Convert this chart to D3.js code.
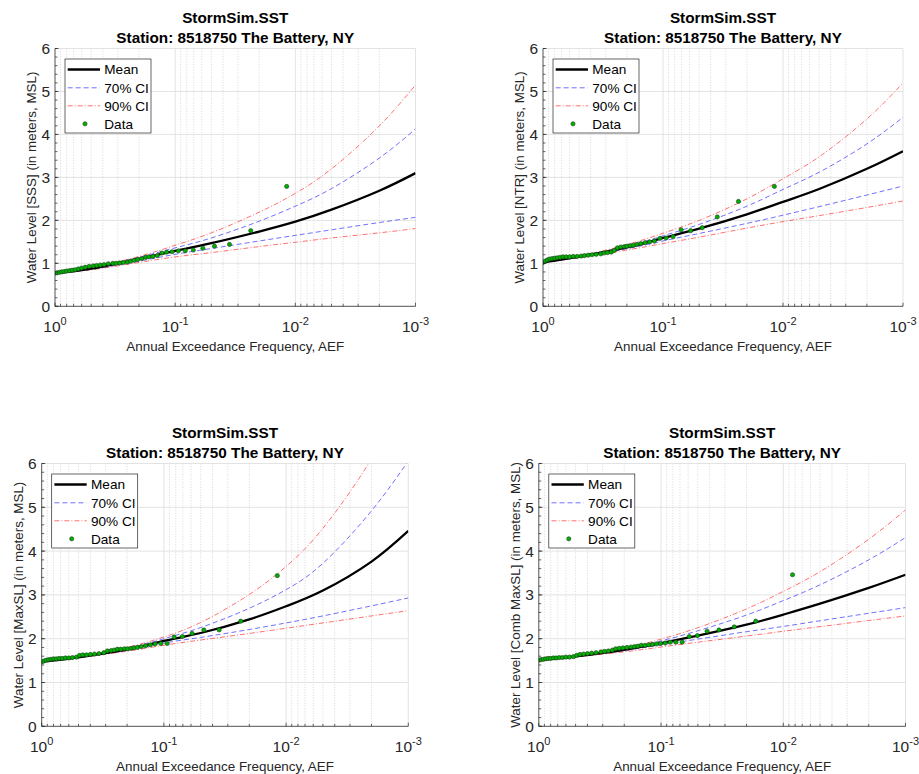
<!DOCTYPE html>
<html><head><meta charset="utf-8">
<script src="https://cdn.jsdelivr.net/npm/d3@7"></script>
<style>
body{margin:0;background:#fff}
svg{display:block}
text{font-family:"Liberation Sans",Arial,Helvetica,sans-serif;fill:#262626}
</style>
</head><body><svg id="c" width="919" height="774"></svg>
<script>
// ---------------- DATA ----------------
const aefGrid = [1, 0.5, 0.2, 0.1, 0.05, 0.02, 0.01, 0.005, 0.002, 0.001];
const xTickValues = [1, 0.1, 0.01, 0.001];
const xTickExponents = ["0", "-1", "-2", "-3"];
const yTickValues = [0, 1, 2, 3, 4, 5, 6];
const titleLine1 = "StormSim.SST";
const titleLine2 = "Station: 8518750 The Battery, NY";
const xAxisLabel = "Annual Exceedance Frequency, AEF";
const yAxisLabels = [
  "Water Level [SSS] (in meters, MSL)",
  "Water Level [NTR] (in meters, MSL)",
  "Water Level [MaxSL] (in meters, MSL)",
  "Water Level [Comb MaxSL] (in meters, MSL)"
];
const legendLabels = ["Mean", "70% CI", "90% CI", "Data"];

// Panel 1: SSS
const sssMean = [0.77, 0.875, 1.105, 1.29, 1.47, 1.74, 1.97, 2.25, 2.69, 3.10];
const sssUp70 = [0.77, 0.89, 1.14, 1.36, 1.59, 1.98, 2.33, 2.74, 3.45, 4.13];
const sssLo70 = [0.77, 0.86, 1.05, 1.21, 1.345, 1.52, 1.65, 1.78, 1.95, 2.07];
const sssUp90 = [0.77, 0.90, 1.16, 1.42, 1.71, 2.19, 2.63, 3.20, 4.20, 5.15];
const sssLo90 = [0.77, 0.85, 1.02, 1.15, 1.25, 1.39, 1.49, 1.59, 1.71, 1.81];
const sssData = [[1.0,0.77],[0.96,0.78],[0.92,0.79],[0.88,0.80],[0.84,0.81],[0.80,0.82],[0.76,0.83],[0.72,0.84],[0.68,0.85],[0.64,0.87],[0.60,0.89],[0.56,0.91],[0.52,0.93],[0.48,0.94],[0.45,0.95],[0.42,0.96],[0.39,0.97],[0.36,0.99],[0.33,1.00],[0.31,1.00],[0.29,1.01],[0.27,1.02],[0.25,1.03],[0.235,1.05],[0.22,1.07],[0.205,1.09],[0.19,1.11],[0.176,1.14],[0.165,1.15],[0.153,1.16],[0.141,1.18],[0.129,1.24],[0.118,1.26],[0.106,1.27],[0.094,1.29],[0.0824,1.29],[0.0706,1.31],[0.0588,1.35],[0.0471,1.40],[0.0353,1.44],[0.0235,1.76],[0.0118,2.79]];

// Panel 2: NTR
const ntrMean = [1.02, 1.155, 1.37, 1.59, 1.81, 2.14, 2.43, 2.73, 3.20, 3.61];
const ntrUp70 = [1.02, 1.16, 1.40, 1.64, 1.905, 2.33, 2.72, 3.12, 3.78, 4.40];
const ntrLo70 = [1.02, 1.14, 1.34, 1.52, 1.695, 1.93, 2.12, 2.32, 2.59, 2.80];
const ntrUp90 = [1.02, 1.165, 1.435, 1.70, 2.00, 2.50, 2.97, 3.48, 4.36, 5.20];
const ntrLo90 = [1.02, 1.135, 1.31, 1.46, 1.61, 1.82, 1.97, 2.11, 2.30, 2.45];
const ntrData = [[1.0,1.02],[0.96,1.05],[0.92,1.08],[0.88,1.10],[0.84,1.11],[0.80,1.12],[0.76,1.13],[0.72,1.14],[0.68,1.15],[0.64,1.15],[0.60,1.15],[0.56,1.16],[0.52,1.16],[0.48,1.17],[0.45,1.18],[0.42,1.19],[0.39,1.20],[0.36,1.21],[0.33,1.22],[0.31,1.24],[0.29,1.25],[0.27,1.26],[0.255,1.30],[0.24,1.36],[0.225,1.38],[0.21,1.39],[0.2,1.40],[0.188,1.41],[0.176,1.42],[0.165,1.44],[0.153,1.46],[0.141,1.48],[0.129,1.50],[0.118,1.52],[0.106,1.58],[0.094,1.59],[0.0824,1.62],[0.0706,1.78],[0.0588,1.76],[0.0471,1.83],[0.0353,2.08],[0.0235,2.44],[0.0118,2.79]];

// Panel 3: MaxSL
const maxMean = [1.47, 1.575, 1.755, 1.95, 2.13, 2.44, 2.74, 3.10, 3.76, 4.46];
const maxUp70 = [1.47, 1.575, 1.775, 2.00, 2.255, 2.695, 3.12, 3.72, 4.92, 6.06];
const maxLo70 = [1.47, 1.57, 1.735, 1.90, 2.03, 2.21, 2.36, 2.52, 2.75, 2.93];
const maxUp90 = [1.47, 1.58, 1.80, 2.04, 2.37, 3.01, 3.65, 4.52, 6.11, 7.71];
const maxLo90 = [1.47, 1.565, 1.715, 1.85, 1.97, 2.12, 2.24, 2.36, 2.52, 2.64];
const maxData = [[1.0,1.47],[0.96,1.49],[0.92,1.51],[0.88,1.52],[0.84,1.53],[0.80,1.54],[0.76,1.54],[0.72,1.55],[0.68,1.55],[0.64,1.56],[0.60,1.56],[0.56,1.57],[0.52,1.58],[0.49,1.62],[0.46,1.63],[0.43,1.63],[0.40,1.64],[0.37,1.65],[0.34,1.66],[0.31,1.68],[0.29,1.72],[0.27,1.73],[0.255,1.74],[0.24,1.76],[0.225,1.76],[0.21,1.77],[0.198,1.77],[0.186,1.78],[0.176,1.79],[0.165,1.80],[0.153,1.82],[0.141,1.84],[0.129,1.86],[0.118,1.88],[0.106,1.89],[0.094,1.89],[0.0824,2.04],[0.0706,2.05],[0.0588,2.12],[0.0471,2.20],[0.0353,2.20],[0.0235,2.40],[0.0118,3.44]];

// Panel 4: Comb MaxSL
const combMean = [1.51, 1.595, 1.745, 1.90, 2.07, 2.32, 2.55, 2.80, 3.16, 3.46];
const combUp70 = [1.51, 1.60, 1.77, 1.95, 2.18, 2.54, 2.87, 3.23, 3.80, 4.31];
const combLo70 = [1.51, 1.59, 1.73, 1.86, 1.99, 2.16, 2.28, 2.41, 2.58, 2.71];
const combUp90 = [1.51, 1.605, 1.785, 1.99, 2.25, 2.68, 3.08, 3.53, 4.27, 4.94];
const combLo90 = [1.51, 1.585, 1.70, 1.81, 1.92, 2.06, 2.17, 2.275, 2.415, 2.52];
const combData = [[1.0,1.51],[0.96,1.52],[0.92,1.53],[0.88,1.54],[0.84,1.55],[0.80,1.55],[0.76,1.56],[0.72,1.56],[0.68,1.57],[0.64,1.57],[0.60,1.58],[0.56,1.58],[0.52,1.59],[0.49,1.62],[0.46,1.64],[0.43,1.65],[0.40,1.66],[0.37,1.67],[0.34,1.68],[0.31,1.70],[0.29,1.71],[0.27,1.72],[0.25,1.74],[0.235,1.77],[0.22,1.78],[0.205,1.79],[0.19,1.80],[0.176,1.81],[0.165,1.82],[0.155,1.83],[0.145,1.85],[0.135,1.85],[0.126,1.86],[0.118,1.87],[0.109,1.88],[0.1008,1.89],[0.0924,1.90],[0.084,1.92],[0.0756,1.92],[0.0672,1.92],[0.0588,2.05],[0.0504,2.07],[0.042,2.17],[0.0336,2.20],[0.0252,2.27],[0.0168,2.40],[0.0084,3.46]];

// ---------------- BUILD ----------------
const panels = [
  {ylabel: yAxisLabels[0], mean: sssMean, up70: sssUp70, lo70: sssLo70, up90: sssUp90, lo90: sssLo90, data: sssData},
  {ylabel: yAxisLabels[1], mean: ntrMean, up70: ntrUp70, lo70: ntrLo70, up90: ntrUp90, lo90: ntrLo90, data: ntrData},
  {ylabel: yAxisLabels[2], mean: maxMean, up70: maxUp70, lo70: maxLo70, up90: maxUp90, lo90: maxLo90, data: maxData},
  {ylabel: yAxisLabels[3], mean: combMean, up70: combUp70, lo70: combLo70, up90: combUp90, lo90: combLo90, data: combData}
];
// layout (pixel frames of each axes)
const frames = [
  {L: 55, R: 415.5, T: 48.5, B: 306.3},
  {L: 543, R: 903, T: 48.5, B: 306.3},
  {L: 41.7, R: 408.3, T: 463.5, B: 726.3},
  {L: 538.8, R: 905.5, T: 463.5, B: 726.3}
];

const AX = "#262626";
const BLUE = "#4545ff";
const RED = "#ff4545";
const GREEN = "#00b000";
const svg = d3.select("#c");
svg.append("rect").attr("width", 919).attr("height", 774).attr("fill", "#fff");

panels.forEach((p, i) => {
  const f = frames[i];
  const x = d3.scaleLog().domain([1, 0.001]).range([f.L, f.R]);
  const y = d3.scaleLinear().domain([0, 6]).range([f.B, f.T]);
  const g = svg.append("g");

  const cid = "clip" + i;
  svg.append("clipPath").attr("id", cid).append("rect")
    .attr("x", f.L).attr("y", f.T).attr("width", f.R - f.L).attr("height", f.B - f.T);

  // grid
  const allLogTicks = x.ticks();
  const majors = xTickValues;
  const minors = allLogTicks.filter(t => !majors.some(m => Math.abs(Math.log10(t) - Math.log10(m)) < 1e-6));
  g.append("g").selectAll("line").data(minors).join("line")
    .attr("x1", d => x(d)).attr("x2", d => x(d)).attr("y1", f.T).attr("y2", f.B)
    .attr("stroke", "#c8c8c8").attr("stroke-width", 0.7).attr("stroke-dasharray", "1,1.6");
  g.append("g").selectAll("line").data(majors.slice(1)).join("line")
    .attr("x1", d => x(d)).attr("x2", d => x(d)).attr("y1", f.T).attr("y2", f.B)
    .attr("stroke", "#dcdcdc").attr("stroke-width", 0.8);
  g.append("g").selectAll("line").data(yTickValues.slice(1)).join("line")
    .attr("x1", f.L).attr("x2", f.R).attr("y1", d => y(d)).attr("y2", d => y(d))
    .attr("stroke", "#dcdcdc").attr("stroke-width", 0.8);

  // curves (smooth spline through the read-off values)
  const line = (vals) => d3.line()
    .x((d, k) => x(aefGrid[k])).y(d => y(d))
    .curve(d3.curveNatural)(vals);
  const cg = g.append("g").attr("clip-path", `url(#${cid})`);
  cg.append("path").attr("d", line(p.up90)).attr("fill", "none").attr("stroke", RED)
    .attr("stroke-width", 0.9).attr("stroke-opacity", 0.85).attr("stroke-dasharray", "5,2,1,2");
  cg.append("path").attr("d", line(p.lo90)).attr("fill", "none").attr("stroke", RED)
    .attr("stroke-width", 0.9).attr("stroke-opacity", 0.85).attr("stroke-dasharray", "5,2,1,2");
  cg.append("path").attr("d", line(p.up70)).attr("fill", "none").attr("stroke", BLUE)
    .attr("stroke-width", 0.9).attr("stroke-opacity", 0.85).attr("stroke-dasharray", "5,3");
  cg.append("path").attr("d", line(p.lo70)).attr("fill", "none").attr("stroke", BLUE)
    .attr("stroke-width", 0.9).attr("stroke-opacity", 0.85).attr("stroke-dasharray", "5,3");
  cg.append("path").attr("d", line(p.mean)).attr("fill", "none").attr("stroke", "#000")
    .attr("stroke-width", 2.3);

  // data
  cg.append("g").selectAll("circle").data(p.data).join("circle")
    .attr("cx", d => x(d[0])).attr("cy", d => y(d[1])).attr("r", 2.1)
    .attr("fill", GREEN).attr("stroke", "#1c3d1c").attr("stroke-width", 0.6);

  // axes lines
  g.append("line").attr("x1", f.L).attr("x2", f.L).attr("y1", f.T).attr("y2", f.B)
    .attr("stroke", AX).attr("stroke-width", 0.8);
  g.append("line").attr("x1", f.L).attr("x2", f.R).attr("y1", f.B).attr("y2", f.B)
    .attr("stroke", AX).attr("stroke-width", 0.8);

  // ticks (inward)
  const yMinor = d3.range(0, 6.001, 0.2);
  g.append("g").selectAll("line").data(yMinor).join("line")
    .attr("x1", f.L).attr("x2", f.L + 2.5).attr("y1", d => y(d)).attr("y2", d => y(d))
    .attr("stroke", AX).attr("stroke-width", 0.7);
  g.append("g").selectAll("line").data(yTickValues).join("line")
    .attr("x1", f.L).attr("x2", f.L + 3.6).attr("y1", d => y(d)).attr("y2", d => y(d))
    .attr("stroke", AX).attr("stroke-width", 0.7);
  g.append("g").selectAll("line").data(minors).join("line")
    .attr("x1", d => x(d)).attr("x2", d => x(d)).attr("y1", f.B).attr("y2", f.B - 2.5)
    .attr("stroke", AX).attr("stroke-width", 0.7);
  g.append("g").selectAll("line").data(majors).join("line")
    .attr("x1", d => x(d)).attr("x2", d => x(d)).attr("y1", f.B).attr("y2", f.B - 3.6)
    .attr("stroke", AX).attr("stroke-width", 0.7);

  // y tick labels
  g.append("g").selectAll("text").data(yTickValues).join("text")
    .attr("x", f.L - 5).attr("y", d => y(d)).attr("dy", "0.36em")
    .attr("text-anchor", "end").attr("font-size", 15.5).text(d => d);

  // x tick labels
  const xt = g.append("g").selectAll("text").data(majors).join("text")
    .attr("x", d => x(d)).attr("y", f.B + 26).attr("text-anchor", "middle").attr("font-size", 15.5);
  xt.append("tspan").text("10");
  xt.append("tspan").attr("font-size", 11).attr("dy", -7).text((d, k) => xTickExponents[k]);

  // axis labels
  g.append("text").attr("x", (f.L + f.R) / 2).attr("y", f.B + 44.7)
    .attr("text-anchor", "middle").attr("font-size", 13.4).text(xAxisLabel);
  g.append("text").attr("transform", `translate(${f.L - 19},${(f.T + f.B) / 2}) rotate(-90)`)
    .attr("text-anchor", "middle").attr("font-size", 13.4).text(p.ylabel);

  // titles
  g.append("text").attr("x", (f.L + f.R) / 2).attr("y", f.T - 26)
    .attr("text-anchor", "middle").attr("font-size", 15.3).attr("font-weight", "bold")
    .style("fill", "#000").text(titleLine1);
  g.append("text").attr("x", (f.L + f.R) / 2).attr("y", f.T - 5.8)
    .attr("text-anchor", "middle").attr("font-size", 15.3).attr("font-weight", "bold")
    .style("fill", "#000").text(titleLine2);

  // legend
  const lx = f.L + 10, ly = f.T + 10.5;
  const lg = g.append("g").attr("transform", `translate(${lx},${ly})`);
  lg.append("rect").attr("width", 86).attr("height", 74).attr("fill", "#fff")
    .attr("stroke", AX).attr("stroke-width", 0.7);
  const rowY = [10.5, 28.8, 46.8, 64.8];
  const styles = [
    {stroke: "#000", w: 2.3, dash: null},
    {stroke: BLUE, w: 0.9, dash: "5,3"},
    {stroke: RED, w: 0.9, dash: "5,2,1,2"}
  ];
  styles.forEach((s, k) => {
    lg.append("line").attr("x1", 2.7).attr("x2", 35).attr("y1", rowY[k]).attr("y2", rowY[k])
      .attr("stroke", s.stroke).attr("stroke-width", s.w)
      .attr("stroke-opacity", k === 0 ? 1 : 0.85)
      .attr("stroke-dasharray", s.dash);
  });
  lg.append("circle").attr("cx", 20).attr("cy", rowY[3]).attr("r", 2.1)
    .attr("fill", GREEN).attr("stroke", "#1c3d1c").attr("stroke-width", 0.6);
  lg.selectAll("text.lt").data(legendLabels).join("text").attr("class", "lt")
    .attr("x", 39.3).attr("y", (d, k) => rowY[k]).attr("dy", "0.36em")
    .attr("font-size", 13.6).style("fill", "#000").text(d => d);
});
</script>
</body></html>
